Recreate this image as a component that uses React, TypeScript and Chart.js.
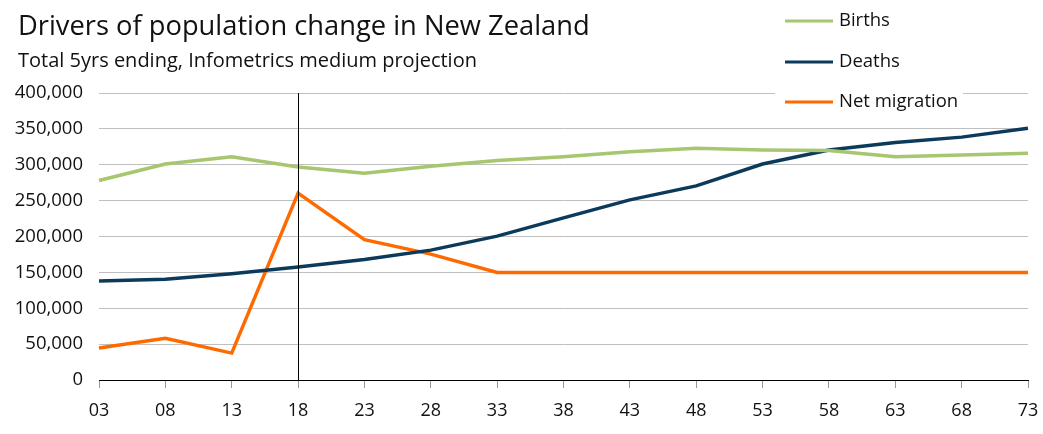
import React, { useEffect, useRef } from "react";
import { Chart, registerables } from "chart.js";

Chart.register(...registerables);

const categories = ["03", "08", "13", "18", "23", "28", "33", "38", "43", "48", "53", "58", "63", "68", "73"];
const births = [278000, 301000, 311000, 297000, 288000, 298000, 306000, 311000, 318000, 323000, 320500, 320000, 311000, 313500, 316000];
const deaths = [138000, 140500, 148000, 157500, 168000, 181000, 200500, 226000, 251000, 270500, 301000, 320500, 331000, 338500, 351000];
const netMigration = [44500, 58000, 37500, 260500, 195500, 175500, 150000, 150000, 150000, 150000, 150000, 150000, 150000, 150000, 150000];
const yTicks = [0, 50000, 100000, 150000, 200000, 250000, 300000, 350000, 400000];
const markerCategory = "18";
const titleText = "Drivers of population change in New Zealand";
const subtitleText = "Total 5yrs ending, Infometrics medium projection";

const FONT = "'Open Sans', 'Noto Sans', sans-serif";

const overlayPlugin = {
  id: "overlay",
  beforeDraw(chart: any) {
    const ctx = chart.ctx;
    ctx.save();
    ctx.fillStyle = "#ffffff";
    ctx.fillRect(0, 0, chart.width, chart.height);
    ctx.fillStyle = "#111111";
    ctx.textAlign = "left";
    ctx.textBaseline = "alphabetic";
    ctx.font = `27.3px ${FONT}`;
    ctx.fillText(titleText, 18, 35);
    ctx.font = `20px ${FONT}`;
    ctx.fillText(subtitleText, 18, 67);
    ctx.restore();
  },
  afterDatasetsDraw(chart: any) {
    const ctx = chart.ctx;
    const x = chart.scales.x.getPixelForValue(categories.indexOf(markerCategory));
    const { top, bottom } = chart.chartArea;
    ctx.save();
    ctx.strokeStyle = "#000000";
    ctx.lineWidth = 1;
    ctx.beginPath();
    ctx.moveTo(Math.round(x) + 0.5, top);
    ctx.lineTo(Math.round(x) + 0.5, bottom);
    ctx.stroke();
    ctx.restore();
  },
  afterDraw(chart: any) {
    const ctx = chart.ctx;
    ctx.save();
    ctx.fillStyle = "#ffffff";
    ctx.fillRect(775, 0, 188, 114);
    const rows = [21, 62, 102];
    chart.data.datasets.forEach((ds: any, i: number) => {
      const y = rows[i];
      ctx.strokeStyle = ds.borderColor;
      ctx.lineWidth = 3;
      ctx.beginPath();
      ctx.moveTo(785, y);
      ctx.lineTo(833, y);
      ctx.stroke();
      ctx.fillStyle = "#111111";
      ctx.font = `18.5px ${FONT}`;
      ctx.textAlign = "left";
      ctx.textBaseline = "middle";
      ctx.fillText(ds.label, 839, y);
    });
    ctx.restore();
  },
};

export default function App() {
  const ref = useRef<HTMLCanvasElement | null>(null);
  useEffect(() => {
    if (!ref.current) return;
    const chart = new Chart(ref.current, {
      type: "line",
      data: {
        labels: categories,
        datasets: [
          { label: "Births", data: births, borderColor: "#A7C66F", borderWidth: 3.5, pointRadius: 0, tension: 0 },
          { label: "Deaths", data: deaths, borderColor: "#0C3A5B", borderWidth: 3.5, pointRadius: 0, tension: 0 },
          { label: "Net migration", data: netMigration, borderColor: "#FF6A00", borderWidth: 3.5, pointRadius: 0, tension: 0 },
        ],
      },
      options: {
        animation: false,
        responsive: false,
        maintainAspectRatio: false,
        layout: { padding: { top: 93, right: 15, left: 0, bottom: 0 } },
        plugins: { legend: { display: false }, title: { display: false }, tooltip: { enabled: false } },
        scales: {
          x: {
            type: "category",
            offset: false,
            grid: { drawOnChartArea: false, drawTicks: true, tickLength: 8, color: "#999999" },
            border: { display: true, color: "#000000", width: 1 },
            ticks: { color: "#111111", font: { family: FONT, size: 18 }, padding: 12, maxRotation: 0, autoSkip: false },
            afterFit(scale: any) {
              scale.height = 54;
              scale.paddingRight = 0;
              scale.paddingLeft = 0;
            },
          },
          y: {
            min: 0,
            max: 400000,
            afterBuildTicks(scale: any) { scale.ticks = yTicks.map((v) => ({ value: v })); },
            grid: { color: "#BFBFBF", drawTicks: false, lineWidth: 1 },
            border: { display: false },
            ticks: {
              color: "#111111",
              font: { family: FONT, size: 18.5 },
              padding: 16,
              callback: (v: any) => Number(v).toLocaleString("en-US"),
            },
            afterFit(scale: any) { scale.width = 99; },
          },
        },
      },
      plugins: [overlayPlugin],
    });
    return () => chart.destroy();
  }, []);
  return (
    <div style={{ position: "fixed", left: 0, top: 0, width: 1043, height: 434 }}>
      <canvas ref={ref} width={1043} height={434} style={{ width: 1043, height: 434 }} />
    </div>
  );
}
